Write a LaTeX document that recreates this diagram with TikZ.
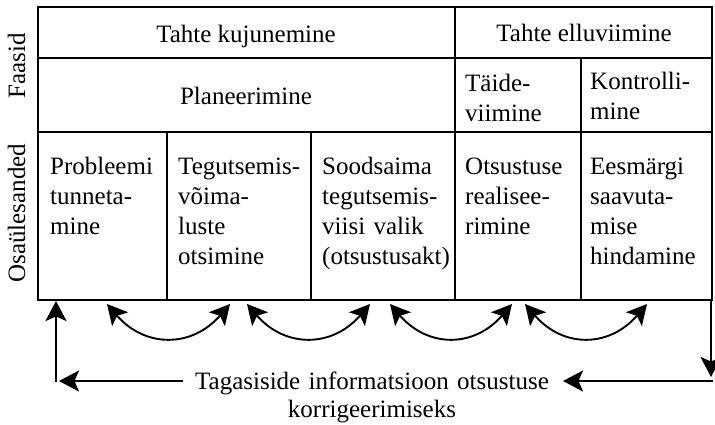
\documentclass[tikz,border=0pt]{standalone}
\usepackage{fontspec}
\setmainfont{Liberation Serif}
\usetikzlibrary{arrows.meta}
\begin{document}
\begin{tikzpicture}[x=1pt,y=-1pt,
  every node/.style={font=\fontsize{25}{30}\selectfont, inner sep=0pt},
  grid/.style={line width=1.9pt},
  arr/.style={line width=1.9pt, -{Stealth[length=20pt,width=21pt,inset=4.5pt]}},
  darr/.style={line width=1.9pt, {Stealth[length=20pt,width=21pt,inset=4.5pt]}-{Stealth[length=20pt,width=21pt,inset=4.5pt]}},
  cell/.style={anchor=base west, align=left, text width=140pt},
  side/.style={rotate=90, anchor=base},
]
\useasboundingbox (0,0) rectangle (715,424);
% table
\draw[grid] (38,7) rectangle (712,300);
\draw[grid] (38,58) -- (712,58);
\draw[grid] (38,132) -- (712,132);
\draw[grid] (455,7) -- (455,300);
\draw[grid] (581,58) -- (581,300);
\draw[grid] (167,132) -- (167,300);
\draw[grid] (311,132) -- (311,300);
% headers
\node[anchor=base] (tk) at (246,42) {Tahte kujunemine};
\node[anchor=base] (te) at (584,41) {Tahte elluviimine};
\node[anchor=base] (pl) at (246,104) {Planeerimine};
\node[cell] (td) at (465,91) {Täide-\\viimine};
\node[cell] (ko) at (590,89) {Kontrolli-\\mine};
% tasks
\node[cell] (c1) at (50,174) {Probleemi\\tunneta-\\mine};
\node[cell] (c2) at (178,174) {Tegutsemis-\\võima-\\luste\\otsimine};
\node[cell] (c3) at (322,174) {Soodsaima\\tegutsemis-\\viisi valik\\(otsustusakt)};
\node[cell] (c4) at (465,174) {Otsustuse\\realisee-\\rimine};
\node[cell] (c5) at (590,174) {Eesmärgi\\saavuta-\\mise\\hindamine};
% side labels
\node[side] (fa) at (25,66) {Faasid};
\node[side] (os) at (25,213) {Osaülesanded};
% feedback text
\node[anchor=base, align=center, text width=380pt] (fb) at (372,389) {Tagasiside informatsioon otsustuse\\[-2pt]korrigeerimiseks};
% feedback arrows
\coordinate (bl) at (56,301);
\coordinate (blc) at (56,382);
\coordinate (fbl) at (183,381);
\coordinate (blt) at (59,381);
\draw[arr] (blc) -- (bl);
\draw[arr] (fbl) -- (blt);
\coordinate (br) at (711,300);
\coordinate (brc) at (711,377);
\draw[arr] (br) -- (brc);
\coordinate (frs) at (713,381);
\coordinate (frt) at (563,381);
\draw[arr] (frs) -- (frt);
% interaction arcs
\foreach \a/\b [count=\i] in {107/230, 247/370, 390/512, 525/647} {
  \coordinate (al\i) at (\a,304);
  \coordinate (ar\i) at (\b,304);
  \draw[darr] (al\i) .. controls +(38,44) and +(-38,44) .. (ar\i);
}
\end{tikzpicture}
\end{document}
